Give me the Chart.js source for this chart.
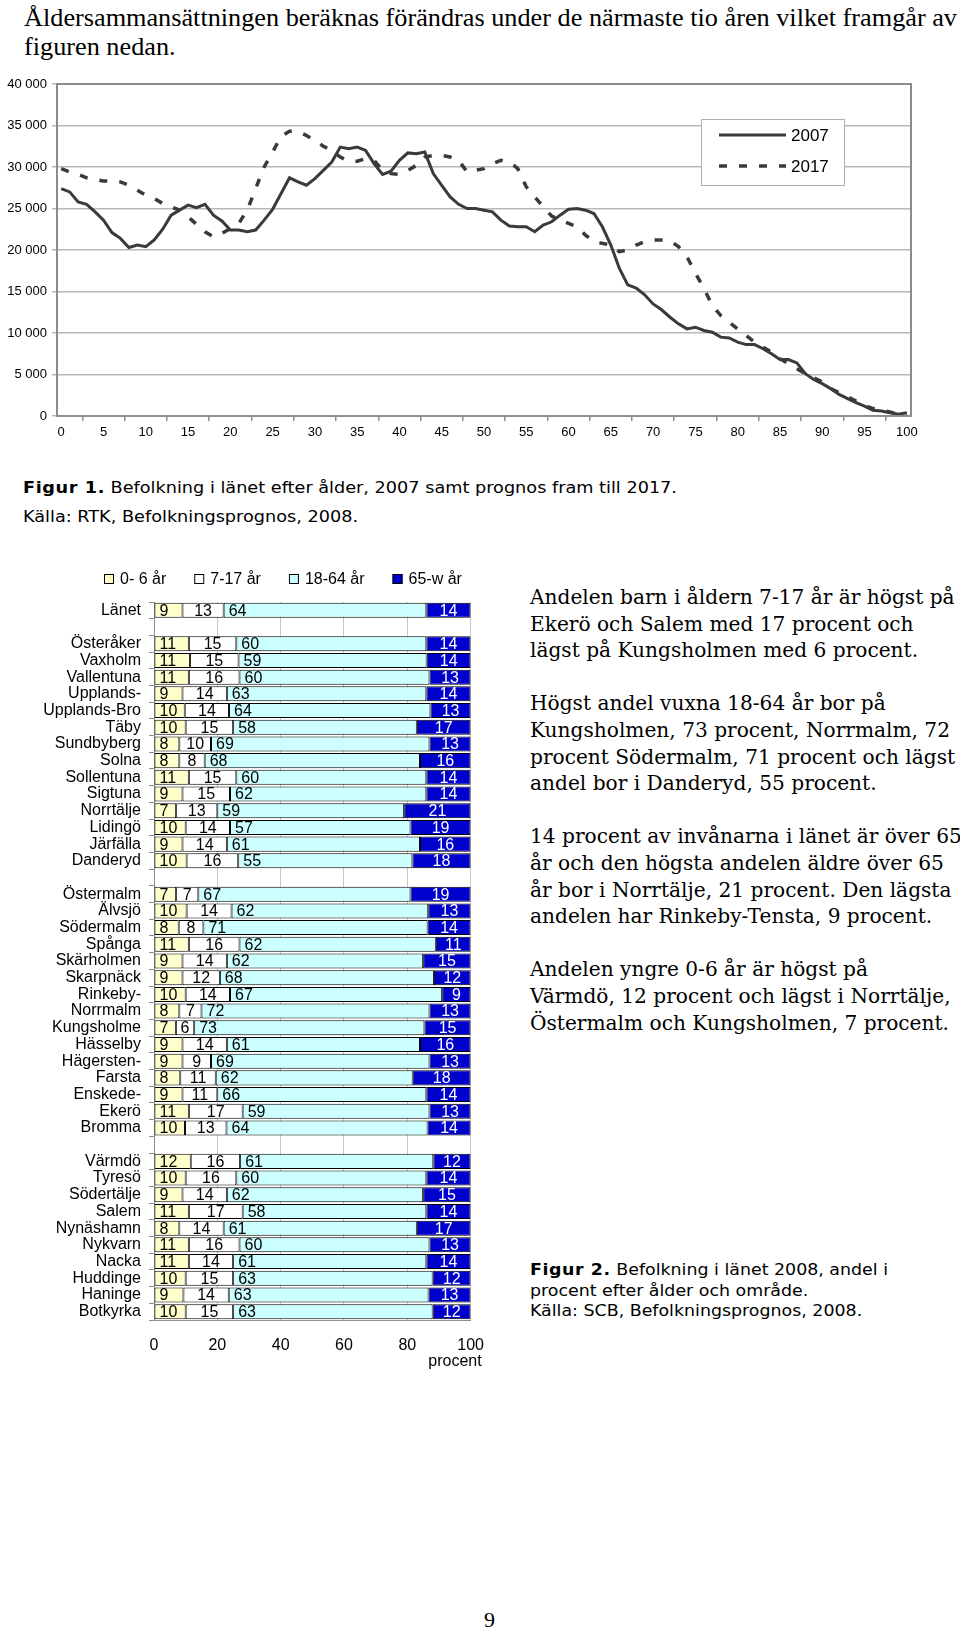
<!DOCTYPE html>
<html lang="sv">
<head>
<meta charset="utf-8">
<title>Befolkning i länet</title>
<script src="https://cdn.jsdelivr.net/npm/chart.js@4.4.1/dist/chart.umd.min.js"></script>
<style>
  html, body { margin: 0; padding: 0; background: #fff; }
  #page { position: relative; width: 960px; height: 1631px; overflow: hidden; }
  .txt { position: absolute; white-space: nowrap; color: #000; transform-origin: 0 0; }
  .title { left: 24px; top: 3px; font-family: "Liberation Serif", serif; font-size: 26px; line-height: 29px; }
  .cap { font-family: "DejaVu Sans", Verdana, sans-serif; font-size: 15px; }
  .cap b { letter-spacing: 0.5px; }
  .cap1 { left: 23px; top: 474px; line-height: 29px; }
  .note { left: 530px; top: 584px; font-family: "DejaVu Serif", Georgia, serif; font-size: 20.5px; line-height: 26.6px; }
  .cap2 { left: 530px; top: 1260px; line-height: 20.5px; }
  .pnum { left: 484px; top: 1607px; font-family: "Liberation Serif", serif; font-size: 22px; }
  #line { position: absolute; left: 0; top: 60px; }
  #bars { position: absolute; left: 0; top: 560px; }
</style>
</head>
<body>
<div id="page">
  <div class="txt title" id="title"><span id="t1">Åldersammansättningen beräknas förändras under de närmaste tio åren vilket framgår av</span><br>figuren nedan.</div>
  <canvas id="line" width="960" height="400"></canvas>
  <div class="txt cap cap1" id="cap1"><span id="c1"><b>Figur 1.</b> Befolkning i länet efter ålder, 2007 samt prognos fram till 2017.</span><br>Källa: RTK, Befolkningsprognos, 2008.</div>
  <canvas id="bars" width="500" height="820"></canvas>
  <div class="txt note" id="note">Andelen barn i åldern 7-17 år är högst på<br>Ekerö och Salem med 17 procent och<br>lägst på Kungsholmen med 6 procent.<br><br>Högst andel vuxna 18-64 år bor på<br><span id="n1">Kungsholmen, 73 procent, Norrmalm, 72</span><br>procent Södermalm, 71 procent och lägst<br>andel bor i Danderyd, 55 procent.<br><br>14 procent av invånarna i länet är över 65<br>år och den högsta andelen äldre över 65<br>år bor i Norrtälje, 21 procent. Den lägsta<br>andelen har Rinkeby-Tensta, 9 procent.<br><br>Andelen yngre 0-6 år är högst på<br>Värmdö, 12 procent och lägst i Norrtälje,<br>Östermalm och Kungsholmen, 7 procent.</div>
  <div class="txt cap cap2" id="cap2"><span id="f2"><b>Figur 2.</b> Befolkning i länet 2008, andel i</span><br>procent efter ålder och område.<br>Källa: SCB, Befolkningsprognos, 2008.</div>
  <div class="txt pnum">9</div>
</div>
<script>
// Figur 1: population by age (1-year groups)
const ages = [0,1,2,3,4,5,6,7,8,9,10,11,12,13,14,15,16,17,18,19,20,21,22,23,24,25,26,27,28,29,30,
  31,32,33,34,35,36,37,38,39,40,41,42,43,44,45,46,47,48,49,50,51,52,53,54,55,56,57,58,59,60,
  61,62,63,64,65,66,67,68,69,70,71,72,73,74,75,76,77,78,79,80,81,82,83,84,85,86,87,88,89,90,
  91,92,93,94,95,96,97,98,99,100];

const pop2007 = [27400,27000,25800,25500,24600,23600,22100,21400,20300,20600,20400,
  21200,22500,24200,24800,25400,25100,25500,24200,23500,22400,
  22400,22200,22400,23600,24900,26800,28700,28200,27800,28600,
  29600,30600,32400,32200,32400,32000,30400,29100,29500,30800,
  31700,31600,31800,29200,27800,26400,25500,25000,25000,24800,
  24600,23600,22900,22800,22800,22200,23000,23400,24200,24900,
  25000,24800,24400,22800,20600,17800,15800,15400,14600,13500,
  12800,11900,11100,10500,10700,10300,10100,9500,9400,8900,
  8600,8600,8100,7500,6800,6800,6400,5100,4400,3900,
  3300,2600,2100,1600,1200,700,600,400,200,400];

const pop2017 = [29800,29400,29100,28700,28500,28300,28300,28200,27800,27200,26600,
  26200,25600,25200,24800,24000,23100,22200,21600,22000,22600,
  23200,24800,27400,30000,31800,33700,34300,34300,33800,33200,
  32500,32000,31200,30700,30700,31000,30800,29600,29200,29100,
  29600,30200,31200,31400,31400,31200,30800,29400,29600,29800,
  30400,30800,30600,29800,27600,26400,25200,24100,23600,23200,
  22800,21800,21000,20800,20600,19800,20000,20600,21000,21200,
  21200,21100,20400,19200,17200,15400,13300,12100,11300,10500,
  9700,8900,8300,7700,6900,6300,5700,5100,4600,4100,
  3300,2800,2300,1800,1300,900,700,500,200,200];

// Figur 2: share in percent by age group and area ('' = spacer row)
const areas = ['Länet','','Österåker','Vaxholm','Vallentuna','Upplands-','Upplands-Bro','Täby',
  'Sundbyberg','Solna','Sollentuna','Sigtuna','Norrtälje','Lidingö','Järfälla','Danderyd','',
  'Östermalm','Älvsjö','Södermalm','Spånga','Skärholmen','Skarpnäck','Rinkeby-','Norrmalm',
  'Kungsholme','Hässelby','Hägersten-','Farsta','Enskede-','Ekerö','Bromma','',
  'Värmdö','Tyresö','Södertälje','Salem','Nynäshamn','Nykvarn','Nacka','Huddinge','Haninge','Botkyrka'];

const age0_6 = [9,null,11,11.4,11,9,9.7,10,8,8,11,9,7,10,9,10.3,null,
  7,10.3,7.8,11,9,9.0,10,8,6.9,9,9,8.3,9,11,9.8,null,
  11.6,10,9,11,8,11,11,10,9.3,10];
const age7_17 = [13,null,15,15.3,16,14,14.0,15,10,8,15,15,13,14,14,16.3,null,
  7,14.2,7.8,16,14,11.8,14,7,5.8,14,9,11.2,11,17,13.1,null,
  15.6,16,14,17,14,16,14,15,14.3,15];
const age18_64 = [64,null,60,59.4,60,63,63.6,58,69,68,60,62,59,57,61,55.0,null,
  67,62.1,70.8,62,62,67.6,67,72,72.7,61,69,62.2,66,59,63.5,null,
  61.0,60,62,58,61,60,61,63,63.1,63];
const age65 = [14,null,14,13.9,13,14,12.7,17,13,16,14,14,21,19,16,18.4,null,
  19,13.4,13.6,11,15,11.6,9,13,14.6,16,13,18.3,14,13,13.6,null,
  11.8,14,15,14,17,13,14,12,13.3,12];

const sans = '"Liberation Sans", Arial, sans-serif';

function spaced(v) {
  return String(v).replace(/\B(?=(\d{3})+(?!\d))/g, ' ');
}

const plotFrame = {
  id: 'plotFrame',
  afterDatasetsDraw(chart) {
    const a = chart.chartArea, ctx = chart.ctx;
    ctx.save();
    ctx.strokeStyle = '#8c8c8c';
    ctx.lineWidth = 2;
    ctx.strokeRect(a.left, a.top, a.right - a.left, a.bottom - a.top);
    ctx.restore();
  }
};

const boxLegend = {
  id: 'boxLegend',
  afterDraw(chart, args, o) {
    const ctx = chart.ctx;
    ctx.save();
    ctx.fillStyle = '#fff';
    ctx.fillRect(o.left, o.top, o.width, o.height);
    ctx.strokeStyle = '#b0b0b0';
    ctx.lineWidth = 1;
    ctx.strokeRect(o.left + 0.5, o.top + 0.5, o.width, o.height);
    ctx.font = o.font;
    ctx.textBaseline = 'middle';
    chart.data.datasets.forEach((ds, i) => {
      const y = o.top + o.firstRow + i * o.rowGap;
      ctx.strokeStyle = ds.borderColor;
      ctx.lineWidth = ds.borderWidth;
      ctx.setLineDash(ds.borderDash || []);
      ctx.beginPath();
      ctx.moveTo(o.left + o.sampleX, y);
      ctx.lineTo(o.left + o.sampleX + o.sampleW, y);
      ctx.stroke();
      ctx.setLineDash([]);
      ctx.fillStyle = '#000';
      ctx.fillText(ds.label, o.left + o.textX, y + 1);
    });
    ctx.restore();
  }
};

new Chart(document.getElementById('line'), {
  type: 'line',
  data: {
    labels: ages,
    datasets: [
      { label: '2007', data: pop2007, borderColor: '#3a3a3a', borderWidth: 3, pointRadius: 0, tension: 0 },
      { label: '2017', data: pop2017, borderColor: '#3a3a3a', borderWidth: 3.5, borderDash: [8, 12], pointRadius: 0, tension: 0 }
    ]
  },
  options: {
    responsive: false,
    animation: false,
    layout: { padding: { top: 24, right: 49, left: 0, bottom: 0 } },
    plugins: {
      legend: { display: false },
      tooltip: { enabled: false },
      boxLegend: { left: 701, top: 59, width: 143, height: 66, firstRow: 16, rowGap: 31,
        sampleX: 18, sampleW: 67, textX: 90, font: '17px ' + sans }
    },
    scales: {
      x: {
        offset: true,
        grid: { offset: true, drawOnChartArea: false, tickLength: 5, color: '#8c8c8c', lineWidth: 1.5 },
        border: { color: '#8c8c8c', width: 2 },
        ticks: {
          autoSkip: false, maxRotation: 0, padding: 4, color: '#000', font: { family: sans, size: 13 },
          callback(v, i) { return i % 5 === 0 ? String(ages[i]) : null; }
        },
        afterFit(s) { s.height = 44; }
      },
      y: {
        min: 0, max: 40000,
        grid: { color: '#b8b8b8', lineWidth: 1.5, tickLength: 5 },
        border: { color: '#8c8c8c', width: 2 },
        ticks: { stepSize: 5000, padding: 5, color: '#000', font: { family: sans, size: 13 },
          callback(v) { return spaced(v); } },
        afterFit(s) { s.width = 57; }
      }
    }
  },
  plugins: [plotFrame, boxLegend]
});

const rowLegend = {
  id: 'rowLegend',
  afterDraw(chart, args, o) {
    const ctx = chart.ctx;
    ctx.save();
    ctx.font = o.font;
    ctx.textBaseline = 'middle';
    let x = o.x;
    chart.data.datasets.forEach(ds => {
      ctx.fillStyle = ds.backgroundColor;
      ctx.fillRect(x, o.y - 5, 10, 10);
      ctx.strokeStyle = '#000';
      ctx.lineWidth = 1;
      ctx.strokeRect(x + 0.5, o.y - 4.5, 9, 9);
      ctx.fillStyle = '#000';
      ctx.fillText(ds.label, x + 16, o.y + 1);
      x += 16 + ctx.measureText(ds.label).width + o.gap;
    });
    ctx.restore();
  }
};

const barValues = {
  id: 'barValues',
  afterDatasetsDraw(chart) {
    const ctx = chart.ctx;
    ctx.save();
    ctx.font = '16px ' + sans;
    ctx.textBaseline = 'middle';
    chart.data.datasets.forEach((ds, di) => {
      chart.getDatasetMeta(di).data.forEach((bar, i) => {
        const v = ds.data[i];
        if (v == null) return;
        const p = bar.getProps(['x', 'y', 'base'], true);
        const centred = di % 2 === 1;
        ctx.fillStyle = di === 3 ? '#fff' : '#000';
        ctx.textAlign = centred ? 'center' : 'left';
        ctx.fillText(String(Math.round(v)), centred ? (p.x + p.base) / 2 : p.base + 5, p.y + 1);
      });
    });
    ctx.restore();
  }
};

// axis unit written under the last tick, slightly past the plot edge as in the original
const unitLabel = {
  id: 'unitLabel',
  afterDraw(chart, args, o) {
    const ctx = chart.ctx, a = chart.chartArea;
    ctx.save();
    ctx.font = '16px ' + sans;
    ctx.fillStyle = '#000';
    ctx.textAlign = 'right';
    ctx.textBaseline = 'middle';
    ctx.fillText(o.text, a.right + o.dx, a.bottom + o.dy);
    ctx.restore();
  }
};

new Chart(document.getElementById('bars'), {
  type: 'bar',
  data: {
    labels: areas,
    datasets: [
      { label: '0- 6 år', data: age0_6, backgroundColor: '#ffffcc' },
      { label: '7-17 år', data: age7_17, backgroundColor: '#ffffff' },
      { label: '18-64 år', data: age18_64, backgroundColor: '#ccffff' },
      { label: '65-w år', data: age65, backgroundColor: '#0000cc' }
    ]
  },
  options: {
    indexAxis: 'y',
    responsive: false,
    animation: false,
    datasets: { bar: { borderColor: '#000', borderWidth: 1, borderSkipped: false, barPercentage: 0.9, categoryPercentage: 1 } },
    layout: { padding: { top: 42, right: 23, left: 0, bottom: 0 } },
    plugins: {
      legend: { display: false },
      tooltip: { enabled: false },
      rowLegend: { x: 104, y: 19, gap: 28, font: '16px ' + sans },
      unitLabel: { text: 'procent', dx: 11, dy: 42 }
    },
    scales: {
      x: {
        stacked: true, min: 0, max: 100,
        grid: { color: '#c8c8c8', drawTicks: false },
        border: { color: '#8c8c8c' },
        ticks: { stepSize: 20, padding: 16, color: '#000', font: { family: sans, size: 16 } },
        afterFit(s) { s.height = 60; }
      },
      y: {
        stacked: true,
        grid: { offset: true, drawOnChartArea: false, tickLength: 5, color: '#8c8c8c' },
        border: { color: '#8c8c8c' },
        ticks: { autoSkip: false, padding: 8, color: '#000', font: { family: sans, size: 16 } },
        afterFit(s) { s.width = 154; }
      }
    }
  },
  plugins: [rowLegend, barValues, unitLabel]
});

// stretch text blocks so that their key line matches the page widths
function fit(blockId, lineId, target) {
  const w = document.getElementById(lineId).getBoundingClientRect().width;
  document.getElementById(blockId).style.transform = 'scaleX(' + (target / w) + ')';
}
fit('title', 't1', 933);
fit('cap1', 'c1', 654);
fit('note', 'n1', 420);
fit('cap2', 'f2', 358);
</script>
</body>
</html>
